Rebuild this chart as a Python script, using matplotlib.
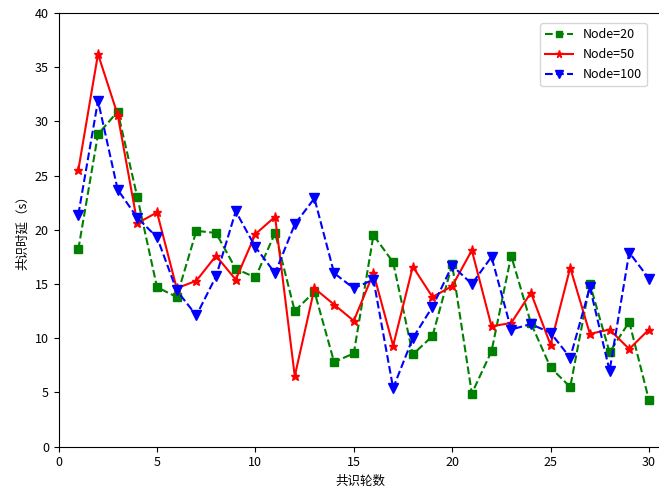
import matplotlib
matplotlib.use("Agg")
from matplotlib import pyplot as plt
import numpy as np

plt.rcParams['font.family'] = ['Noto Sans CJK SC', 'DejaVu Sans']

# consensus rounds
rounds = np.arange(1, 31)

# latency per round for each network size
node20 = [18.2, 28.8, 30.9, 23.0, 14.7, 13.8, 19.9, 19.7, 16.4, 15.6,
          19.7, 12.5, 14.3, 7.8, 8.6, 19.5, 17.0, 8.5, 10.2, 16.8,
          4.9, 8.8, 17.6, 11.4, 7.3, 5.5, 15.0, 8.7, 11.5, 4.3]
node50 = [25.5, 36.2, 30.6, 20.6, 21.6, 14.6, 15.3, 17.6, 15.4, 19.6,
          21.2, 6.5, 14.6, 13.1, 11.6, 16.0, 9.3, 16.6, 13.8, 14.8,
          18.1, 11.1, 11.4, 14.2, 9.4, 16.5, 10.4, 10.8, 9.0, 10.8]
node100 = [21.4, 31.9, 23.7, 21.1, 19.3, 14.4, 12.1, 15.7, 21.7, 18.4,
           16.0, 20.5, 22.9, 16.0, 14.6, 15.4, 5.4, 10.0, 12.9, 16.7,
           15.0, 17.5, 10.8, 11.3, 10.5, 8.2, 14.7, 7.0, 17.9, 15.5]

fig = plt.figure(figsize=(6.59, 4.93), dpi=100)
# right edge of the axes runs just past the image, as in the original crop
ax = fig.add_axes([0.089, 0.094, 0.916, 0.88])

ax.plot(rounds, node20, 'g--', marker='s', markersize=5.5, lw=1.5, label='Node=20')
ax.plot(rounds, node50, 'r-', marker='*', markersize=6.5, lw=1.5, label='Node=50')
ax.plot(rounds, node100, 'b--', marker='v', markersize=6.5, lw=1.5, label='Node=100')

ax.set_xlim(0, 30.68)
ax.set_ylim(0, 40)
ax.set_xticks([0, 5, 10, 15, 20, 25, 30])
ax.set_yticks(range(0, 41, 5))
ax.tick_params(labelsize=9)
ax.set_xlabel('共识轮数', fontsize=9)
ax.set_ylabel('共识时延（s）', fontsize=9)
ax.legend(loc='upper right', fontsize=9, handlelength=2.2, labelspacing=0.55,
          bbox_to_anchor=(0.985, 0.99), markerscale=0.85)

plt.savefig('out.png', dpi=100)
plt.close()
